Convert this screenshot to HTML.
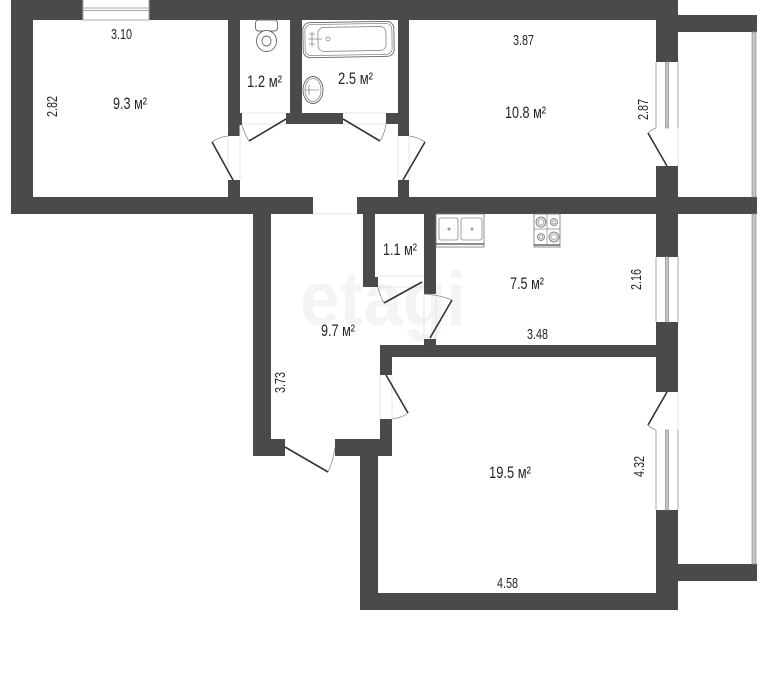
<!DOCTYPE html>
<html><head><meta charset="utf-8"><style>
html,body{margin:0;padding:0;background:#fff}
svg{display:block}
text{font-family:"Liberation Sans",sans-serif;fill:#262626}
.a{font-size:17px}.d{font-size:15px}
.t{stroke:#e4e4e4;fill:none;stroke-width:1}
.door{stroke:#333;stroke-width:1.6;fill:none}
.arc{stroke:#888;stroke-width:.8;fill:none}
.f{fill:#fff;stroke:#666;stroke-width:.9}
.g{fill:none;stroke:#8a8a8a;stroke-width:.8}
</style></head><body>
<svg width="768" height="688" viewBox="0 0 768 688" xmlns="http://www.w3.org/2000/svg">
<rect width="768" height="688" fill="#fff"/>
<text x="300" y="325" font-size="76" font-weight="bold" textLength="166" lengthAdjust="spacingAndGlyphs" style="fill:#f4f4f4">etagi</text>
<g fill="#4a4a4a">
<rect x="11" y="0" width="72" height="20"/><rect x="149" y="0" width="529" height="20"/>
<rect x="11" y="0" width="22" height="214"/>
<rect x="11" y="197" width="302" height="17"/><rect x="357" y="197" width="400" height="17"/>
<rect x="228" y="20" width="12" height="116"/><rect x="228" y="113" width="14" height="12"/>
<rect x="228" y="180" width="12" height="17"/>
<rect x="290" y="20" width="12" height="94"/><rect x="286" y="113" width="57" height="11"/>
<rect x="386" y="113" width="13" height="11"/><rect x="398" y="20" width="11" height="116"/>
<rect x="398" y="180" width="11" height="17"/>
<rect x="656" y="0" width="22" height="62"/><rect x="656" y="166" width="22" height="48"/>
<rect x="678" y="15" width="79" height="17"/>
<rect x="656" y="214" width="22" height="43"/><rect x="656" y="322" width="22" height="70"/>
<rect x="656" y="510" width="22" height="100"/>
<rect x="678" y="564" width="79" height="17"/>
<rect x="253" y="214" width="18" height="242"/><rect x="253" y="439" width="32" height="17"/>
<rect x="335" y="439" width="57" height="17"/><rect x="380" y="419" width="12" height="37"/>
<rect x="360" y="456" width="18" height="154"/><rect x="360" y="593" width="318" height="17"/>
<rect x="380" y="345" width="276" height="12"/><rect x="380" y="345" width="12" height="30"/>
<rect x="363" y="214" width="12" height="73"/><rect x="363" y="277" width="15" height="10"/>
<rect x="424" y="214" width="12" height="80"/><rect x="424" y="339" width="12" height="6"/>
</g>
<!-- windows -->
<g fill="none" stroke="#a8a8a8" stroke-width="1">
<path d="M83 0V20M149 0V20M83 20H149M83 8H149M83 10.500H149" />
<path d="M656 62V128M678 62V128M656 257V322M678 257V322M656 430V510M678 430V510"/>
</g>
<g fill="#c4c4c4" stroke="#8f8f8f" stroke-width=".7">
<rect x="665.500" y="62" width="3" height="66"/><rect x="665.500" y="257" width="3" height="65"/><rect x="665.500" y="430" width="3" height="80"/>
<rect x="752" y="32" width="4" height="165"/><rect x="752" y="214" width="4" height="350"/>
</g>
<!-- thresholds -->
<path class="t" d="M228 136V180M240 125V180M398 136V180M409 136V180M242 113H286M343 113H386M242 124H286M343 124H386M678 128V166M678 392V430M380 375V419M392 375V419M378 276H424M378 287H424M424 294V339M436 294V339M313 214H357" />
<!-- doors -->
<path class="door" d="M233 180L212 142M403 180L425 142M286 119L249 141M343 119L380 141M667 166L648 133M422 282L384 303M430 338L452 300M386 375L408 413M285 447L328 472M667 392L648 425"/>
<path class="arc" d="M212 142Q219 137 228 136M425 142Q418 137 409 136M249 141Q244 133 242 125M380 141Q385 133 386 124M648 133Q651 130 656 128M384 303Q380 296 378 287M452 300Q440 295 424 294M408 413Q402 418 392 419M328 472Q333 462 335 447M648 425Q652 429 656 430"/>
<!-- toilet -->
<rect class="f" x="255.500" y="20" width="22" height="11" rx="3"/>
<ellipse class="f" cx="266.500" cy="41" rx="10" ry="10.500"/>
<ellipse class="f" cx="266.500" cy="41" rx="4.500" ry="5"/>
<!-- bath -->
<rect class="f" x="303" y="22" width="91" height="35" rx="7" transform="rotate(-1 348 40)"/>
<rect class="g" x="305" y="24" width="87" height="31" rx="6" transform="rotate(-1 348 40)"/>
<rect class="g" x="318" y="27" width="68" height="24" rx="6" transform="rotate(-1 348 40)"/>
<path class="g" d="M312 32V47M308 39H322M309 34H315M309 44H315"/><circle class="g" cx="328" cy="39" r="2"/>
<!-- basin -->
<ellipse class="f" cx="313" cy="90" rx="10" ry="13.500"/>
<ellipse class="g" cx="313" cy="90" rx="8" ry="11.500"/>
<path class="g" d="M305 90H319M309 85V95"/>
<!-- kitchen sink -->
<g transform="translate(436,214)">
<rect x="0" y="0" width="48" height="33" fill="#fff" stroke="#777" stroke-width=".8"/>
<rect class="g" x="3" y="4" width="19" height="22" rx="2"/><rect class="g" x="25" y="4" width="21" height="22" rx="2"/>
<circle cx="13" cy="15" r="1.500" fill="#999"/><circle cx="36" cy="15" r="1.500" fill="#999"/>
<path d="M0 30H48" stroke="#666" stroke-width="1.500"/>
</g>
<!-- stove -->
<g transform="translate(534,214)">
<rect x="0" y="0" width="26" height="33" fill="#fff" stroke="#777" stroke-width=".8"/>
<path d="M13 0V30M0 15H26" stroke="#888" stroke-width=".7"/>
<path d="M0 31H26" stroke="#666" stroke-width="1.500"/>
<circle cx="7" cy="8" r="5" fill="#ddd" stroke="#777" stroke-width=".8"/><circle cx="7" cy="8" r="2.500" fill="#fff" stroke="#999" stroke-width=".6"/>
<circle cx="20" cy="8" r="3.500" fill="#ddd" stroke="#777" stroke-width=".8"/><circle cx="20" cy="8" r="1.500" fill="#fff" stroke="#999" stroke-width=".6"/>
<circle cx="7" cy="23" r="3.500" fill="#ddd" stroke="#777" stroke-width=".8"/><circle cx="7" cy="23" r="1.500" fill="#fff" stroke="#999" stroke-width=".6"/>
<circle cx="20" cy="23" r="5" fill="#ddd" stroke="#777" stroke-width=".8"/><circle cx="20" cy="23" r="2.500" fill="#fff" stroke="#999" stroke-width=".6"/>
</g>
<!-- labels -->
<text class="a" x="113" y="109" textLength="34" lengthAdjust="spacingAndGlyphs">9.3 м²</text>
<text class="a" x="247" y="87" textLength="35" lengthAdjust="spacingAndGlyphs">1.2 м²</text>
<text class="a" x="338" y="84" textLength="35" lengthAdjust="spacingAndGlyphs">2.5 м²</text>
<text class="a" x="505" y="118" textLength="41" lengthAdjust="spacingAndGlyphs">10.8 м²</text>
<text class="a" x="383" y="255" textLength="34" lengthAdjust="spacingAndGlyphs">1.1 м²</text>
<text class="a" x="510" y="289" textLength="34" lengthAdjust="spacingAndGlyphs">7.5 м²</text>
<text class="a" x="321" y="336" textLength="34" lengthAdjust="spacingAndGlyphs">9.7 м²</text>
<text class="a" x="489" y="478" textLength="42" lengthAdjust="spacingAndGlyphs">19.5 м²</text>
<text class="d" x="111" y="39" textLength="21" lengthAdjust="spacingAndGlyphs">3.10</text>
<text class="d" x="513" y="45" textLength="21" lengthAdjust="spacingAndGlyphs">3.87</text>
<text class="d" x="527" y="339" textLength="21" lengthAdjust="spacingAndGlyphs">3.48</text>
<text class="d" x="497" y="588" textLength="21" lengthAdjust="spacingAndGlyphs">4.58</text>
<text class="d" transform="translate(57,117) rotate(-90)" textLength="21" lengthAdjust="spacingAndGlyphs">2.82</text>
<text class="d" transform="translate(648,120) rotate(-90)" textLength="21" lengthAdjust="spacingAndGlyphs">2.87</text>
<text class="d" transform="translate(641,290) rotate(-90)" textLength="21" lengthAdjust="spacingAndGlyphs">2.16</text>
<text class="d" transform="translate(285,393) rotate(-90)" textLength="21" lengthAdjust="spacingAndGlyphs">3.73</text>
<text class="d" transform="translate(644,477) rotate(-90)" textLength="21" lengthAdjust="spacingAndGlyphs">4.32</text>
</svg>
</body></html>
